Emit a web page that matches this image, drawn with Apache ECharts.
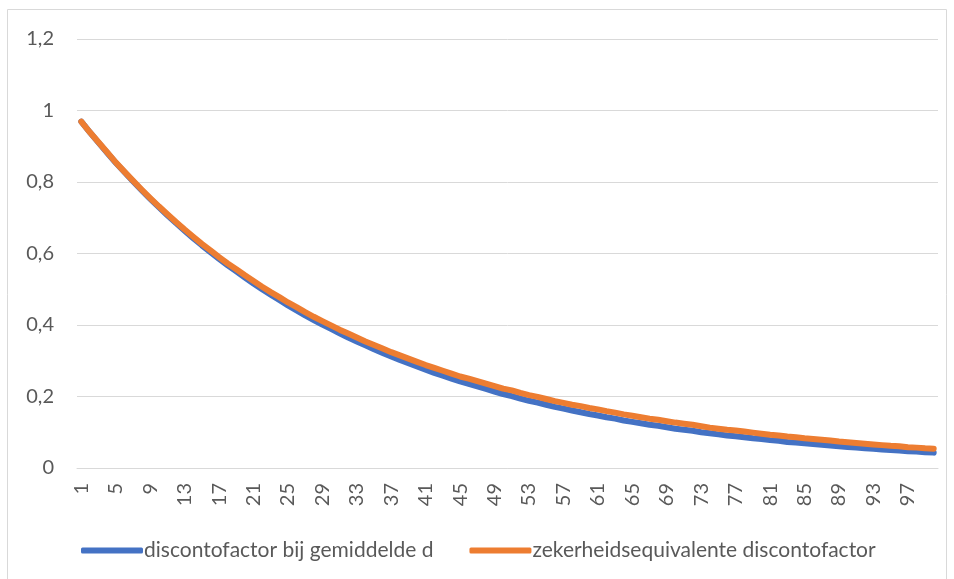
<!DOCTYPE html>
<html>
<head>
<meta charset="utf-8">
<script src="https://cdn.jsdelivr.net/npm/echarts@6/dist/echarts.min.js"></script>
<style>
  html, body { margin: 0; padding: 0; background: #fff; }
  #chart { width: 954px; height: 579px; }
</style>
</head>
<body>
<div id="chart"></div>
<script>
// jaren 1..100
var jaren = [];
for (var i = 1; i <= 100; i++) { jaren.push(String(i)); }

var gemiddeld = [
  0.969, 0.939, 0.910, 0.882, 0.854, 0.828, 0.802, 0.777, 0.753, 0.730,
  0.707, 0.685, 0.664, 0.643, 0.623, 0.604, 0.585, 0.567, 0.550, 0.533,
  0.516, 0.500, 0.485, 0.470, 0.455, 0.441, 0.427, 0.414, 0.401, 0.389,
  0.377, 0.365, 0.354, 0.343, 0.332, 0.322, 0.312, 0.302, 0.293, 0.284,
  0.275, 0.266, 0.258, 0.250, 0.242, 0.235, 0.228, 0.221, 0.214, 0.207,
  0.201, 0.194, 0.188, 0.183, 0.177, 0.171, 0.166, 0.161, 0.156, 0.151,
  0.147, 0.142, 0.138, 0.133, 0.129, 0.125, 0.121, 0.118, 0.114, 0.110,
  0.107, 0.104, 0.100, 0.097, 0.094, 0.091, 0.089, 0.086, 0.083, 0.081,
  0.078, 0.076, 0.073, 0.071, 0.069, 0.067, 0.065, 0.063, 0.061, 0.059,
  0.057, 0.055, 0.054, 0.052, 0.050, 0.049, 0.047, 0.046, 0.044, 0.043
];

var zekerheid = [
  0.969, 0.939, 0.911, 0.883, 0.855, 0.829, 0.804, 0.779, 0.755, 0.732,
  0.710, 0.688, 0.667, 0.647, 0.627, 0.609, 0.590, 0.572, 0.556, 0.539,
  0.523, 0.507, 0.492, 0.478, 0.463, 0.450, 0.436, 0.423, 0.411, 0.399,
  0.387, 0.376, 0.365, 0.354, 0.344, 0.334, 0.324, 0.315, 0.306, 0.297,
  0.288, 0.280, 0.272, 0.264, 0.256, 0.250, 0.243, 0.236, 0.229, 0.222,
  0.217, 0.210, 0.204, 0.199, 0.193, 0.187, 0.182, 0.177, 0.173, 0.168,
  0.164, 0.159, 0.155, 0.150, 0.146, 0.142, 0.138, 0.135, 0.131, 0.127,
  0.124, 0.121, 0.117, 0.113, 0.110, 0.107, 0.105, 0.102, 0.099, 0.096,
  0.093, 0.091, 0.088, 0.086, 0.083, 0.081, 0.079, 0.077, 0.074, 0.072,
  0.070, 0.068, 0.066, 0.064, 0.062, 0.061, 0.058, 0.057, 0.055, 0.054
];

var namen = ['discontofactor bij gemiddelde d', 'zekerheidsequivalente discontofactor'];

var font = 'Lato, "Open Sans", sans-serif';
var chart = echarts.init(document.getElementById('chart'));

var option = {
  animation: false,
  color: ['#4472C4', '#ED7D31'],
  graphic: [{
    type: 'rect',
    shape: { x: 7.5, y: 9.5, width: 939, height: 600 },
    style: { fill: 'none', stroke: '#d9d9d9', lineWidth: 1 },
    silent: true
  }],
  grid: { left: 77, right: 16, top: 39, bottom: 111 },
  legend: {
    data: namen,
    left: 76,
    top: 535,
    icon: 'roundRect',
    itemWidth: 62,
    itemHeight: 6,
    itemGap: 36,
    textStyle: { fontFamily: font, fontSize: 21, color: '#595959', padding: [0, 0, 0, -4] }
  },
  xAxis: {
    type: 'category',
    data: jaren,
    boundaryGap: true,
    axisLine: { show: true, lineStyle: { color: '#d9d9d9' } },
    axisTick: { show: false },
    axisLabel: {
      interval: 3,
      rotate: 90,
      margin: 15,
      fontFamily: font,
      fontSize: 20,
      color: '#595959'
    }
  },
  yAxis: {
    type: 'value',
    min: 0,
    max: 1.2,
    interval: 0.2,
    axisLine: { show: false },
    axisTick: { show: false },
    splitLine: { lineStyle: { color: '#d9d9d9', width: 1 } },
    axisLabel: {
      margin: 23,
      fontFamily: font,
      fontSize: 20,
      color: '#595959',
      formatter: function (v) {
        return String(Math.round(v * 10) / 10).replace('.', ',');
      }
    }
  },
  series: [
    {
      name: namen[0],
      type: 'line',
      data: gemiddeld,
      showSymbol: false,
      lineStyle: { width: 6, cap: 'round', join: 'round' }
    },
    {
      name: namen[1],
      type: 'line',
      data: zekerheid,
      showSymbol: false,
      lineStyle: { width: 6, cap: 'round', join: 'round' }
    }
  ]
};

chart.setOption(option);
</script>
</body>
</html>
